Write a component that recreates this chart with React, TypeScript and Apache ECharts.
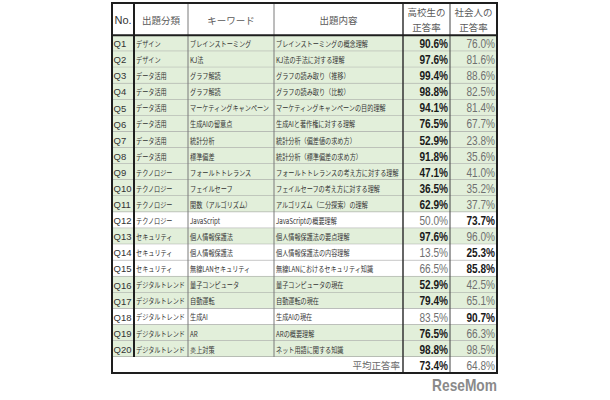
import React, { useEffect, useRef } from 'react';
import * as echarts from 'echarts';

const questionNos = ['Q1', 'Q2', 'Q3', 'Q4', 'Q5', 'Q6', 'Q7', 'Q8', 'Q9', 'Q10', 'Q11', 'Q12', 'Q13', 'Q14', 'Q15', 'Q16', 'Q17', 'Q18', 'Q19', 'Q20'];
const categories = ['デザイン', 'デザイン', 'データ活用', 'データ活用', 'データ活用', 'データ活用', 'データ活用', 'データ活用', 'テクノロジー', 'テクノロジー', 'テクノロジー', 'テクノロジー', 'セキュリティ', 'セキュリティ', 'セキュリティ', 'デジタルトレンド', 'デジタルトレンド', 'デジタルトレンド', 'デジタルトレンド', 'デジタルトレンド'];
const keywords = ['ブレインストーミング', 'KJ法', 'グラフ解読', 'グラフ解読', 'マーケティングキャンペーン', '生成AIの留意点', '統計分析', '標準偏差', 'フォールトトレランス', 'フェイルセーフ', '関数（アルゴリズム）', 'JavaScript', '個人情報保護法', '個人情報保護法', '無線LANセキュリティ', '量子コンピュータ', '自動運転', '生成AI', 'AR', '炎上対策'];
const contents = ['ブレインストーミングの概念理解', 'KJ法の手法に対する理解', 'グラフの読み取り（推移）', 'グラフの読み取り（比較）', 'マーケティングキャンペーンの目的理解', '生成AIと著作権に対する理解', '統計分析（偏差値の求め方）', '統計分析（標準偏差の求め方）', 'フォールトトレランスの考え方に対する理解', 'フェイルセーフの考え方に対する理解', 'アルゴリズム（二分探索）の理解', 'JavaScriptの概要理解', '個人情報保護法の要点理解', '個人情報保護法の内容理解', '無線LANにおけるセキュリティ知識', '量子コンピュータの現在', '自動運転の現在', '生成AIの現在', 'ARの概要理解', 'ネット用語に関する知識'];
const highSchoolRates = [90.6, 97.6, 99.4, 98.8, 94.1, 76.5, 52.9, 91.8, 47.1, 36.5, 62.9, 50.0, 97.6, 13.5, 66.5, 52.9, 79.4, 83.5, 76.5, 98.8];
const adultRates = [76.0, 81.6, 88.6, 82.5, 81.4, 67.7, 23.8, 35.6, 41.0, 35.2, 37.7, 73.7, 96.0, 25.3, 85.8, 42.5, 65.1, 90.7, 66.3, 98.5];
const averageLabel = '平均正答率';
const averageRates = [73.4, 64.8];
const headerLabels = [['No.'], ['出題分類'], ['キーワード'], ['出題内容'], ['高校生の', '正答率'], ['社会人の', '正答率']];
const watermark = 'ReseMom';

// layout constants (not data)
const COL_W = [22, 54, 86, 129, 47, 47];
const EDGES: number[] = COL_W.reduce((a: number[], w) => { a.push(a[a.length - 1] + w); return a; }, [0]);
const TOTAL = EDGES[EDGES.length - 1];
const HEADER_UNITS = 2;
const ROW_UNITS = HEADER_UNITS + questionNos.length + 1;
const GREEN = '#e2efda';
const JP = "'Noto Sans CJK JP', sans-serif";
const LAT = "'Liberation Sans', Arial, sans-serif";
const THIN = '#9a9a9a';
const DARK = '#1e1e1e';

const pct = (v: number) => v.toFixed(1) + '%';

function txt(s: string, x: number, y: number, font: string, fill: string, align: string, scaleX = 1) {
  return {
    type: 'text',
    x, y, scaleX,
    style: { text: s, x: 0, y: 0, font, fill, align, textAlign: align, verticalAlign: 'middle', textVerticalAlign: 'middle' },
  };
}

export default function App() {
  const ref = useRef<HTMLDivElement>(null);
  useEffect(() => {
    if (!ref.current) return;
    const chart = echarts.init(ref.current, null, { renderer: 'svg' });
    const valFont = (bold: boolean) => `${bold ? 'bold ' : ''}12px ${LAT}`;

    const rowRender = (params: any, api: any) => {
      const i = params.dataIndex;
      const top = HEADER_UNITS + api.value(0);
      const px = (u: number) => api.coord([u, top])[0];
      const y0 = api.coord([0, top])[1];
      const y1 = api.coord([0, top + 1])[1];
      const cy = (y0 + y1) / 2 + 0.5;
      const hs = api.value(1);
      const ad = api.value(2);
      const hsWins = hs > ad;
      const textFill = '#333';
      const jpFont = `7.5px ${JP}`;
      const children: any[] = [
        { type: 'rect', shape: { x: px(0), y: y0, width: px(TOTAL) - px(0), height: y1 - y0 }, style: { fill: hsWins ? GREEN : '#ffffff' } },
        txt(questionNos[i], px(EDGES[0]) + 1.5, cy, `9.5px ${LAT}`, textFill, 'left'),
        txt(categories[i], px(EDGES[1]) + 2, cy, jpFont, textFill, 'left', 0.82),
        txt(keywords[i], px(EDGES[2]) + 2, cy, jpFont, textFill, 'left', 0.82),
        txt(contents[i], px(EDGES[3]) + 2, cy, jpFont, textFill, 'left', 0.82),
        txt(pct(hs), px(EDGES[5]) - 2, cy, valFont(hsWins), hsWins ? '#1a1a1a' : '#707070', 'right', 0.84),
        txt(pct(ad), px(EDGES[6]) - 2, cy, valFont(!hsWins), hsWins ? '#707070' : '#1a1a1a', 'right', 0.84),
        { type: 'line', shape: { x1: px(0), y1: y1, x2: px(TOTAL), y2: y1 }, style: { stroke: THIN, lineWidth: 1 } },
      ];
      return { type: 'group', children };
    };

    const headerRender = (params: any, api: any) => {
      const py = (u: number) => api.coord([0, u])[1];
      const px = (u: number) => api.coord([u, 0])[0];
      const children: any[] = [
        { type: 'rect', shape: { x: px(0), y: py(0), width: px(TOTAL) - px(0), height: py(HEADER_UNITS) - py(0) }, style: { fill: '#ffffff' } },
      ];
      headerLabels.forEach((lines, c) => {
        const cx = (px(EDGES[c]) + px(EDGES[c + 1])) / 2;
        if (lines.length === 1) {
          const isNo = c === 0;
          children.push(txt(lines[0], cx, py(HEADER_UNITS / 2) + 0.5, isNo ? `11px ${LAT}` : `9.5px ${JP}`, isNo ? '#333' : '#5a5a5a', 'center'));
        } else {
          children.push(txt(lines[0], cx, py(0.5) + 1, `9.5px ${JP}`, '#5a5a5a', 'center'));
          children.push(txt(lines[1], cx, py(1.5), `9.5px ${JP}`, '#5a5a5a', 'center'));
        }
      });
      return { type: 'group', children };
    };

    const avgRender = (params: any, api: any) => {
      const top = HEADER_UNITS + questionNos.length;
      const px = (u: number) => api.coord([u, top])[0];
      const y0 = api.coord([0, top])[1];
      const y1 = api.coord([0, top + 1])[1];
      const cy = (y0 + y1) / 2 + 0.5;
      const a = api.value(0);
      const b = api.value(1);
      return {
        type: 'group',
        children: [
          { type: 'rect', shape: { x: px(0), y: y0, width: px(TOTAL) - px(0), height: y1 - y0 }, style: { fill: '#ffffff' } },
          txt(averageLabel, px(EDGES[4]) - 3, cy, `9.5px ${JP}`, '#6a6a6a', 'right'),
          txt(pct(a), px(EDGES[5]) - 2, cy, valFont(true), '#1a1a1a', 'right', 0.84),
          txt(pct(b), px(EDGES[6]) - 2, cy, valFont(false), '#707070', 'right', 0.84),
        ],
      };
    };

    const frameRender = (params: any, api: any) => {
      const py = (u: number) => api.coord([0, u])[1];
      const px = (u: number) => api.coord([u, 0])[0];
      const bodyEnd = HEADER_UNITS + questionNos.length;
      const vstyles = [
        null,
        { stroke: DARK, lineWidth: 2, end: bodyEnd },
        { stroke: '#7a7a7a', lineWidth: 1, end: bodyEnd },
        { stroke: '#7a7a7a', lineWidth: 1, end: bodyEnd },
        { stroke: '#333', lineWidth: 1.5, end: ROW_UNITS },
        { stroke: '#444', lineWidth: 1, end: ROW_UNITS },
      ];
      const children: any[] = [];
      for (let c = 1; c < EDGES.length - 1; c++) {
        const s: any = vstyles[c];
        children.push({ type: 'line', shape: { x1: px(EDGES[c]), y1: py(0), x2: px(EDGES[c]), y2: py(s.end) }, style: { stroke: s.stroke, lineWidth: s.lineWidth } });
      }
      children.push({ type: 'line', shape: { x1: px(0), y1: py(HEADER_UNITS), x2: px(TOTAL), y2: py(HEADER_UNITS) }, style: { stroke: DARK, lineWidth: 2 } });
      children.push({ type: 'rect', shape: { x: px(0), y: py(0), width: px(TOTAL) - px(0), height: py(ROW_UNITS) - py(0) }, style: { fill: 'none', stroke: DARK, lineWidth: 2 } });
      children.push(txt(watermark, px(TOTAL), py(ROW_UNITS) + 12, `bold 16px ${LAT}`, '#8a8a8a', 'right', 0.86));
      return { type: 'group', children };
    };

    chart.setOption({
      animation: false,
      grid: { left: 112, right: 610 - 112 - TOTAL, top: 3, bottom: 27 },
      xAxis: { type: 'value', min: 0, max: TOTAL, show: false },
      yAxis: { type: 'value', min: 0, max: ROW_UNITS, inverse: true, show: false },
      series: [
        { type: 'custom', renderItem: rowRender, data: highSchoolRates.map((v, i) => [i, v, adultRates[i]]), silent: true },
        { type: 'custom', renderItem: headerRender, data: [[0]], silent: true },
        { type: 'custom', renderItem: avgRender, data: [averageRates], silent: true },
        { type: 'custom', renderItem: frameRender, data: [[0]], silent: true },
      ],
    });
    return () => chart.dispose();
  }, []);
  return <div ref={ref} style={{ position: 'absolute', left: 0, top: 0, width: 610, height: 400, background: '#fff' }} />;
}
